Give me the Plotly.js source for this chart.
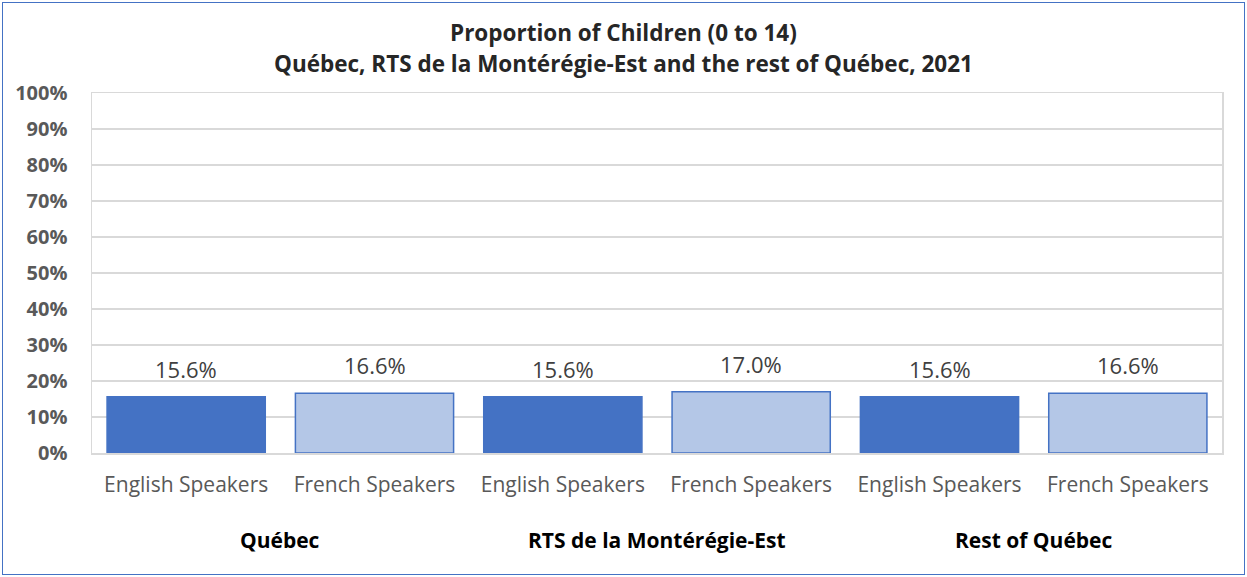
<!DOCTYPE html>
<html>
<head>
<meta charset="utf-8">
<script src="https://cdn.plot.ly/plotly-3.0.1.min.js"></script>
<style>
  html, body { margin: 0; padding: 0; background: #ffffff; }
  #wrap { position: relative; width: 1247px; height: 577px; }
  #chart { width: 1247px; height: 577px; }
  #frame { position: absolute; left: 2px; top: 2px; width: 1243px; height: 573px;
           box-sizing: border-box; border: 1px solid #4472C4; pointer-events: none; }
</style>
</head>
<body>
<div id="wrap"><div id="chart"></div><div id="frame"></div></div>
<script>
// ---- data ----
const titleLine1 = 'Proportion of Children (0 to 14)';
const titleLine2 = 'Québec, RTS de la Montérégie-Est and the rest of Québec, 2021';
const groups = ['Québec', 'RTS de la Montérégie-Est', 'Rest of Québec'];
const speakers = ['English Speakers', 'French Speakers'];
const englishValues = [15.6, 15.6, 15.6];
const frenchValues = [16.6, 17.0, 16.6];
const yTickValues = [0, 10, 20, 30, 40, 50, 60, 70, 80, 90, 100];

// ---- build ----
const xs = [], ys = [], labels = [], fills = [], lines = [];
groups.forEach((g, gi) => {
  speakers.forEach((s, si) => {
    xs.push(gi * speakers.length + si);
    ys.push(si === 0 ? englishValues[gi] : frenchValues[gi]);
    labels.push(s);
    fills.push(si === 0 ? '#4472C4' : '#B4C7E7');
    lines.push('#4472C4');
  });
});

const font = '"Open Sans", "Noto Sans", "Liberation Sans", sans-serif';
const W = 1247, H = 577;
const margin = { l: 92, r: 25, t: 93, b: 124 };
const titleX = (W / 2 - margin.l) / (W - margin.l - margin.r);

const trace = {
  type: 'bar',
  x: xs,
  y: ys,
  width: 0.84,
  marker: { color: fills, line: { color: lines, width: 1.5 } },
  hoverinfo: 'skip'
};

const annotations = [];
xs.forEach((x, i) => {
  annotations.push({
    x: x, y: ys[i], xref: 'x', yref: 'y',
    text: ys[i].toFixed(1) + '%',
    showarrow: false, yanchor: 'bottom', yshift: 11,
    font: { family: font, size: 22, color: '#404040' }
  });
});
groups.forEach((g, gi) => {
  annotations.push({
    x: gi * speakers.length + (speakers.length - 1) / 2, y: -0.242,
    xref: 'x', yref: 'paper', text: '<b>' + g + '</b>',
    showarrow: false, yanchor: 'middle',
    font: { family: font, size: 21, color: '#000000' }
  });
});
annotations.push({
  x: titleX, y: 1.167, xref: 'paper', yref: 'paper', xanchor: 'center', yanchor: 'middle',
  text: '<b>' + titleLine1 + '</b>', showarrow: false,
  font: { family: font, size: 22.5, color: '#262626' }
});
annotations.push({
  x: titleX, y: 1.081, xref: 'paper', yref: 'paper', xanchor: 'center', yanchor: 'middle',
  text: '<b>' + titleLine2 + '</b>', showarrow: false,
  font: { family: font, size: 22.5, color: '#262626' }
});

const layout = {
  width: W, height: H,
  margin: margin,
  paper_bgcolor: '#ffffff', plot_bgcolor: '#ffffff',
  showlegend: false,
  bargap: 0.16,
  xaxis: {
    range: [-0.5, xs.length - 0.5],
    tickvals: xs, ticktext: labels,
    showgrid: false, zeroline: false,
    showline: true, linecolor: '#d9d9d9', linewidth: 1.5, mirror: true,
    ticks: '', ticklabelstandoff: 12,
    tickfont: { family: font, size: 21, color: '#595959' },
    fixedrange: true
  },
  yaxis: {
    range: [0, 100],
    tickvals: yTickValues,
    ticktext: yTickValues.map(v => '<b>' + v + '%</b>'),
    showgrid: true, gridcolor: '#d9d9d9', gridwidth: 1.5,
    zeroline: false,
    showline: true, linecolor: '#d9d9d9', linewidth: 1.5, mirror: true,
    ticks: '', ticklabelstandoff: 19,
    tickfont: { family: font, size: 20, color: '#595959' },
    fixedrange: true
  },
  annotations: annotations
};

Plotly.newPlot('chart', [trace], layout, { displayModeBar: false, staticPlot: true });
</script>
</body>
</html>
